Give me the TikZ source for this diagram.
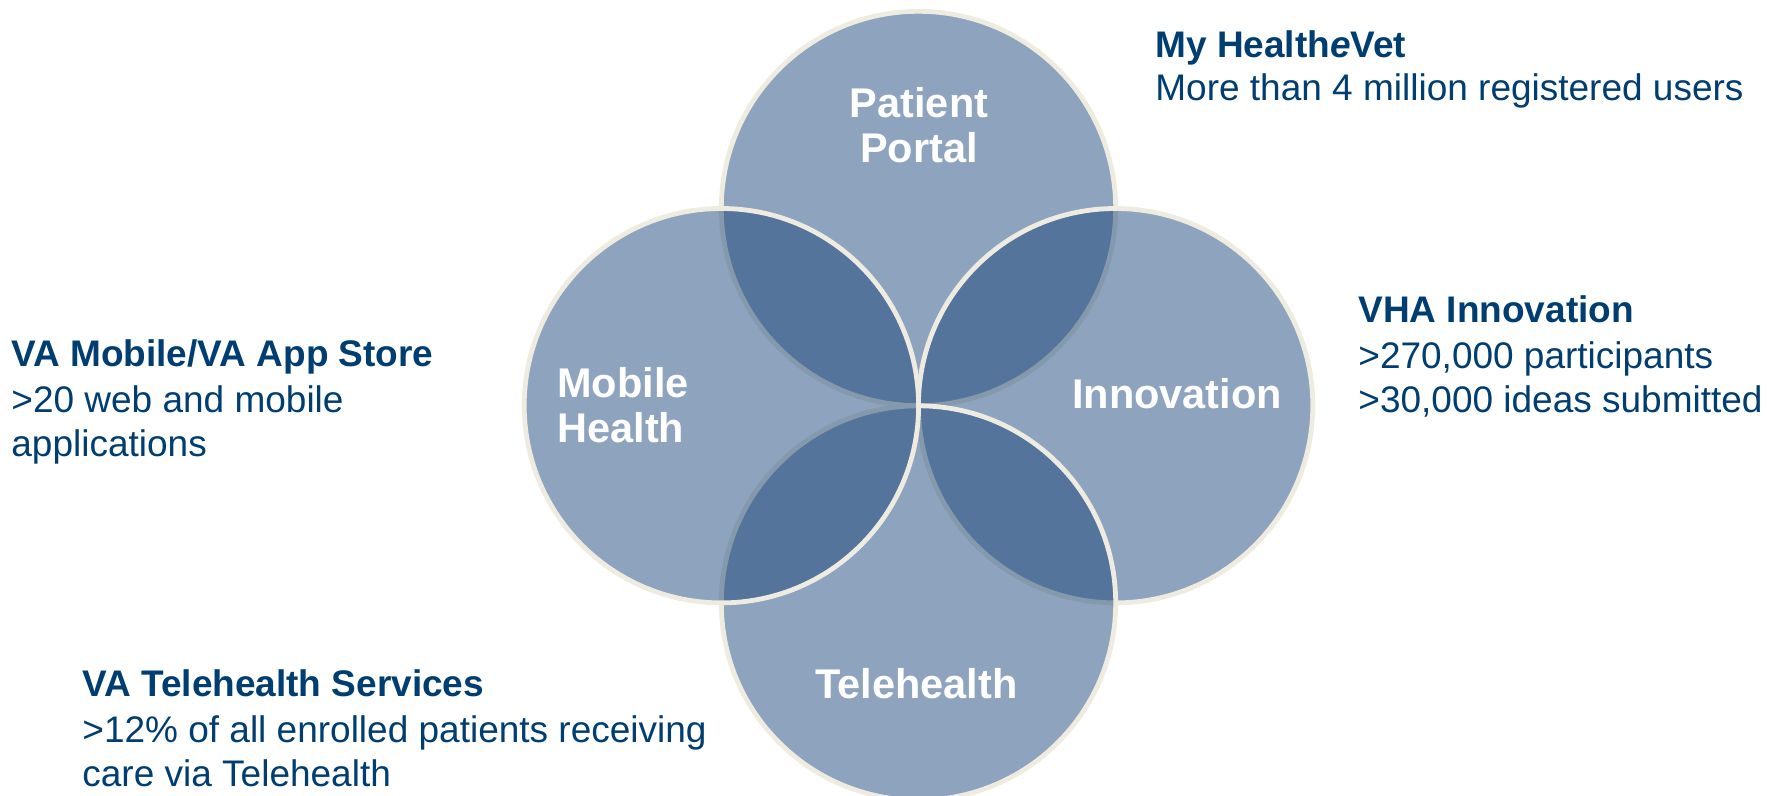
\documentclass[tikz,border=0pt]{standalone}
\usepackage{fontspec}
\setmainfont{Liberation Sans}
\definecolor{vablue}{RGB}{29,71,123}
\definecolor{rim}{RGB}{238,236,225}
\definecolor{txtblue}{RGB}{0,61,113}
\begin{document}
\begin{tikzpicture}[x=0.5pt,y=-0.5pt,
  petal/.style={circle,draw=rim,line width=2.4pt,fill=vablue,fill opacity=0.5,inner sep=0pt,minimum size=197.2pt},
  lbl/.style={text=white,font=\bfseries\fontsize{20.75}{24}\selectfont,inner sep=0pt},
  side/.style={text=txtblue,font=\fontsize{18.5}{22}\selectfont,inner sep=0pt,anchor=base west},
  sidehead/.style={side,font=\bfseries\fontsize{18.5}{22}\selectfont}]
\useasboundingbox (0,0) rectangle (1767,796);
% circles, in stacking order
\node[petal] (portal) at (918.5,208.5) {};
\node[petal] (innov)  at (1115.6,405.7) {};
\node[petal] (tele)   at (918.5,603) {};
\node[petal] (mobile) at (721.4,405.7) {};
% circle labels
\node[lbl,anchor=base] (ppA) at (919,118) {Patient};
\node[lbl,anchor=base] (ppB) at (919,163) {Portal};
\node[lbl,anchor=base west] (mhA) at (557,398) {Mobile};
\node[lbl,anchor=base west] (mhB) at (557,443) {Health};
\node[lbl,anchor=base] (inn) at (1177,409) {Innovation};
\node[lbl,anchor=base] (tel) at (916.5,698) {Telehealth};
% side texts
\node[sidehead] (mhvT) at (1155,58) {My Health\textit{e}Vet};
\node[side] (mhvA) at (1155,101) {More than 4 million registered users};
\node[sidehead] (vhaT) at (1358,323) {VHA Innovation};
\node[side] (vhaA) at (1358,369) {>270,000 participants};
\node[side] (vhaB) at (1358,413) {>30,000 ideas submitted};
\node[sidehead] (vamT) at (11,367) {VA Mobile/VA App Store};
\node[side] (vamA) at (11,413) {>20 web and mobile};
\node[side] (vamB) at (11,457) {applications};
\node[sidehead] (vtsT) at (82,696) {VA Telehealth Services};
\node[side] (vtsA) at (82,742) {>12\% of all enrolled patients receiving};
\node[side] (vtsB) at (82,786) {care via Telehealth};
\end{tikzpicture}
\end{document}
